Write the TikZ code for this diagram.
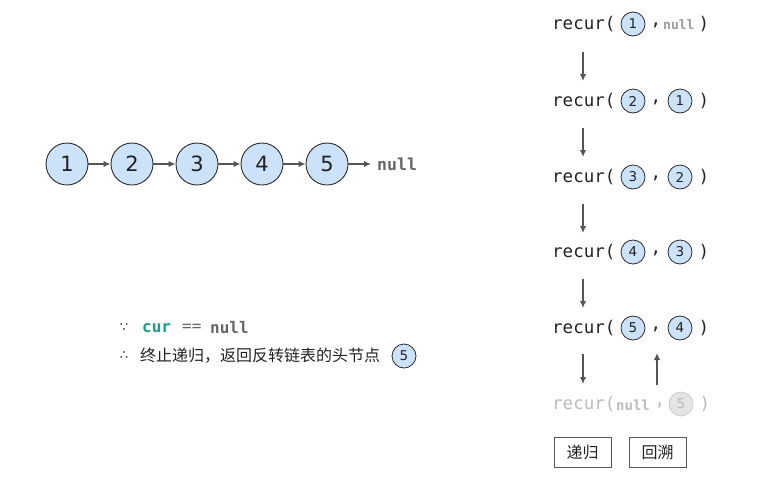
\documentclass[tikz,border=0pt]{standalone}
\usepackage{fontspec}
\setmainfont{DejaVu Sans}
\setmonofont{DejaVu Sans Mono}
\newfontfamily\cjk{Noto Sans CJK SC}
\usetikzlibrary{arrows.meta}
\definecolor{nodefill}{HTML}{CCE2F9}
\definecolor{nodeline}{HTML}{2A2A2A}
\definecolor{arrgray}{HTML}{555555}
\definecolor{nullgray}{HTML}{666666}
\definecolor{lightnull}{HTML}{9A9A9A}
\definecolor{fadetext}{HTML}{BBBBBB}
\definecolor{fadefill}{HTML}{E4E4E4}
\definecolor{fadeline}{HTML}{CCCCCC}
\definecolor{tealc}{HTML}{1E9A8A}
\definecolor{txt}{HTML}{222222}
\begin{document}
\begin{tikzpicture}[x=1pt,y=-1pt,
  big/.style={circle,draw=nodeline,fill=nodefill,line width=0.9pt,minimum size=42pt,inner sep=0pt,font=\fontsize{21}{21}\selectfont,text=txt},
  small/.style={circle,draw=nodeline,fill=nodefill,line width=0.8pt,minimum size=24pt,inner sep=0pt,font=\fontsize{13.5}{13.5}\selectfont,text=txt},
  fadesmall/.style={circle,draw=fadeline,fill=fadefill,line width=0.8pt,minimum size=24pt,inner sep=0pt,font=\fontsize{13.5}{13.5}\selectfont,text=fadetext},
  arr/.style={draw=arrgray,line width=1.4pt,-{Latex[length=7pt,width=6.5pt]}},
  code/.style={inner sep=0pt,anchor=west,font=\ttfamily\fontsize{17.5}{18}\selectfont,text=txt},
  punct/.style={inner sep=0pt,font=\ttfamily\fontsize{17.5}{18}\selectfont,text=txt},
  btn/.style={draw=arrgray,line width=0.8pt,minimum width=57pt,minimum height=30pt,inner sep=0pt,font=\cjk\fontsize{16}{16}\selectfont,text=txt}
]
\useasboundingbox (0,0) rectangle (759,480);

% linked list
\node[big] (n1) at (67,164) {1};
\node[big] (n2) at (132,164) {2};
\node[big] (n3) at (197,164) {3};
\node[big] (n4) at (262,164) {4};
\node[big] (n5) at (327,164) {5};
\node[inner sep=0pt,anchor=west,font=\ttfamily\bfseries\fontsize{16.5}{17}\selectfont,text=nullgray] (nl) at (377,164) {null};
\draw[arr] (n1) -- (n2);
\draw[arr] (n2) -- (n3);
\draw[arr] (n3) -- (n4);
\draw[arr] (n4) -- (n5);
\draw[arr,shorten >=6pt] (n5) -- (nl);

% recursion column
\node[code] (r1) at (552,24) {recur(};
\node[small] (r1a) at (633,24) {1};
\node[punct] (r1c) at (656,25) {,};
\node[inner sep=0pt,anchor=west,font=\ttfamily\bfseries\fontsize{13}{13}\selectfont,text=lightnull] (r1b) at (663,25) {null};
\node[punct] (r1p) at (704,24) {)};

\node[code] (r2) at (552,101) {recur(};
\node[small] (r2a) at (633,101) {2};
\node[punct] (r2c) at (656,102) {,};
\node[small] (r2b) at (680,101) {1};
\node[punct] (r2p) at (704,101) {)};

\node[code] (r3) at (552,177) {recur(};
\node[small] (r3a) at (633,177) {3};
\node[punct] (r3c) at (656,178) {,};
\node[small] (r3b) at (680,177) {2};
\node[punct] (r3p) at (704,177) {)};

\node[code] (r4) at (552,252) {recur(};
\node[small] (r4a) at (633,252) {4};
\node[punct] (r4c) at (656,253) {,};
\node[small] (r4b) at (680,252) {3};
\node[punct] (r4p) at (704,252) {)};

\node[code] (r5) at (552,328) {recur(};
\node[small] (r5a) at (633,328) {5};
\node[punct] (r5c) at (656,329) {,};
\node[small] (r5b) at (680,328) {4};
\node[punct] (r5p) at (704,328) {)};

\node[code,text=fadetext] (r6) at (552,404) {recur(};
\node[inner sep=0pt,anchor=west,font=\ttfamily\bfseries\fontsize{14}{14}\selectfont,text=fadetext] (r6a) at (616,405) {null};
\node[punct,text=fadetext] (r6c) at (660,405) {,};
\node[fadesmall] (r6b) at (681,404) {5};
\node[punct,text=fadetext] (r6p) at (705,404) {)};

% down arrows
\coordinate (d1s) at (583,52); \coordinate (d1e) at (583,81);
\coordinate (d2s) at (583,128); \coordinate (d2e) at (583,157);
\coordinate (d3s) at (583,204); \coordinate (d3e) at (583,233);
\coordinate (d4s) at (583,279); \coordinate (d4e) at (583,308);
\coordinate (d5s) at (583,354); \coordinate (d5e) at (583,384);
\draw[arr] (d1s) -- (d1e);
\draw[arr] (d2s) -- (d2e);
\draw[arr] (d3s) -- (d3e);
\draw[arr] (d4s) -- (d4e);
\draw[arr] (d5s) -- (d5e);
% up arrow
\coordinate (u1s) at (657,385); \coordinate (u1e) at (657,353);
\draw[arr] (u1s) -- (u1e);

% legend buttons
\node[btn] (b1) at (582.5,452) {递归};
\node[btn] (b2) at (657.5,452) {回溯};

% condition text
\node[inner sep=0pt,font=\fontsize{13}{13}\selectfont,text=txt] (because) at (124,328) {∵};
\node[inner sep=0pt,anchor=west,font=\ttfamily\bfseries\fontsize{16}{16}\selectfont,text=tealc] (cur) at (142,328) {cur};
\node[inner sep=0pt,anchor=west,font=\ttfamily\fontsize{16}{16}\selectfont,text=nullgray] (eq) at (182,328) {==};
\node[inner sep=0pt,anchor=west,font=\ttfamily\bfseries\fontsize{16}{16}\selectfont,text=nullgray] (cn) at (210,328) {null};

\node[inner sep=0pt,font=\fontsize{13}{13}\selectfont,text=txt] (therefore) at (124,356) {∴};
\node[inner sep=0pt,anchor=west,font=\cjk\fontsize{16}{16}\selectfont,text=txt] (msg) at (140,356) {终止递归，返回反转链表的头节点};
\node[small] (h5) at (404,356) {5};
\end{tikzpicture}
\end{document}
